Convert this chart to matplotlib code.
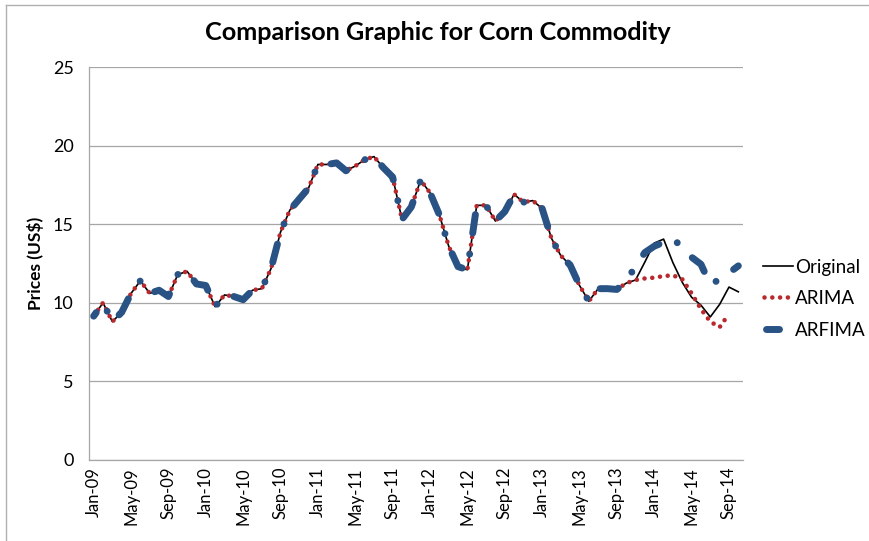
import numpy as np
import matplotlib
matplotlib.use("Agg")
import matplotlib.pyplot as plt
from matplotlib.lines import Line2D

# Monthly corn prices, Jan-09 .. Oct-14
original = [
    9.15, 10.0, 8.8, 9.4, 10.6, 11.4, 10.6, 10.8, 10.4, 11.8,
    12.0, 11.2, 11.1, 9.75, 10.5, 10.4, 10.2, 10.8, 10.9, 12.2,
    14.5, 15.9, 16.6, 17.3, 18.8, 18.8, 18.9, 18.4, 18.7, 19.1,
    19.3, 18.6, 18.0, 15.3, 16.1, 17.8, 17.0, 15.6, 13.6, 12.3,
    12.1, 16.2, 16.2, 15.2, 15.8, 16.9, 16.4, 16.5, 16.0, 14.1,
    13.0, 12.4, 11.1, 10.1, 10.9, 10.9, 10.85, 11.25, 11.45, 12.6,
    13.8, 14.05, 12.55, 11.3, 10.35, 9.85, 9.1, 9.9, 11.0, 10.7,
]

# ARIMA: fitted in-sample values follow the original, then the forecast
arima_forecast = [11.55, 11.6, 11.7, 11.75, 11.5, 10.6, 9.6, 8.8, 8.45, 9.3]
arima = original[:59] + arima_forecast + [np.nan]

# ARFIMA: fitted in-sample values follow the original, then the forecast
arfima_forecast = [11.35, 12.35, 13.2, 13.6, 13.85, 14.1, 13.5, 12.9, 12.45,
                   11.15, 11.5, 11.9, 12.35]
arfima = original[:57] + arfima_forecast

series_names = ["Original", "ARIMA", "ARFIMA"]

tick_labels = ["Jan-09", "May-09", "Sep-09", "Jan-10", "May-10", "Sep-10",
               "Jan-11", "May-11", "Sep-11", "Jan-12", "May-12", "Sep-12",
               "Jan-13", "May-13", "Sep-13", "Jan-14", "May-14", "Sep-14"]

plt.rcParams["font.family"] = ["Lato", "DejaVu Sans"]
plt.rcParams["lines.scale_dashes"] = False

DPI = 100
W, H = 869, 541
fig = plt.figure(figsize=(W / DPI, H / DPI), dpi=DPI)
ax = fig.add_axes([89 / W, 1 - 460 / H, (743 - 89) / W, (460 - 67) / H])

x = np.arange(len(original))
grey = "#a6a6a6"
red = "#b8282d"
blue = "#295285"
dot_style = (0, (0.01, 5.6))

ax.set_xlim(-0.5, len(original) - 0.5)
ax.set_ylim(0, 25)

# long-dash / dot pattern for ARFIMA (points); phase chosen so a dot falls
# at the first forecast month
dash_on, dash_off = 13.5, 15.3
pattern = (dash_on, dash_off, 0.01, dash_off)
period = sum(pattern)
xy = ax.transData.transform(np.column_stack([x, arfima])) * 72.0 / DPI
seg = np.hypot(*np.diff(xy, axis=0).T)
cum = np.concatenate([[0], np.cumsum(seg)])
anchor = 57.6
k = int(anchor)
arc = cum[k] + (anchor - k) * seg[k]
offset = ((dash_on + dash_off) - arc) % period

ax.plot(x, original, color="black", lw=1.2, zorder=3)
ax.plot(x, arima, color=red, lw=3.3, linestyle=dot_style,
        dash_capstyle="round", zorder=4)
ax.plot(x, arfima, color=blue, lw=5.0, linestyle=(offset, pattern),
        dash_capstyle="round", solid_capstyle="round", zorder=5)

ax.set_yticks([0, 5, 10, 15, 20, 25])
ax.set_xticks(np.arange(0, len(original), 4))
ax.set_xticklabels(tick_labels, rotation=90, fontsize=12)
ax.tick_params(axis="both", length=0, colors="black")
ax.tick_params(axis="y", pad=11, labelsize=13)
ax.tick_params(axis="x", pad=5)

ax.grid(axis="y", color=grey, lw=0.9)
ax.set_axisbelow(True)
for side in ("top", "right"):
    ax.spines[side].set_visible(False)
for side in ("left", "bottom"):
    ax.spines[side].set_color(grey)
    ax.spines[side].set_linewidth(0.9)

ax.set_ylabel("Prices (US$)", fontsize=12.5, fontweight="bold")
ax.yaxis.set_label_coords((44 - 89) / 654, 0.5)
fig.text(438 / W, 1 - 33 / H, "Comparison Graphic for Corn Commodity",
         ha="center", va="center", fontsize=18.2, fontweight="bold")


# legend drawn by hand so each sample keeps its own length
def fx(px):
    return px / W


def fy(py):
    return 1 - py / H


legend_rows = [266, 297, 329]
samples = [
    Line2D([fx(763), fx(793)], [fy(266)] * 2, color="black", lw=1.2),
    Line2D([fx(764), fx(790)], [fy(297)] * 2, color=red, lw=3.3,
           linestyle=dot_style, dash_capstyle="round"),
    Line2D([fx(766), fx(779)], [fy(329)] * 2, color=blue, lw=5.0,
           solid_capstyle="round"),
]
for line in samples:
    line.set_transform(fig.transFigure)
    fig.add_artist(line)
for name, row in zip(series_names, legend_rows):
    fig.text(fx(795), fy(row), name, ha="left", va="center_baseline",
             fontsize=13.5)

# outer frame (top and left edges)
fig.add_artist(Line2D([fx(6), 1], [fy(5), fy(5)],
                      transform=fig.transFigure, color="#b0b0b0", lw=1))
fig.add_artist(Line2D([fx(6), fx(6)], [0, fy(5)],
                      transform=fig.transFigure, color="#b0b0b0", lw=1))

fig.savefig("out.png", dpi=DPI)
